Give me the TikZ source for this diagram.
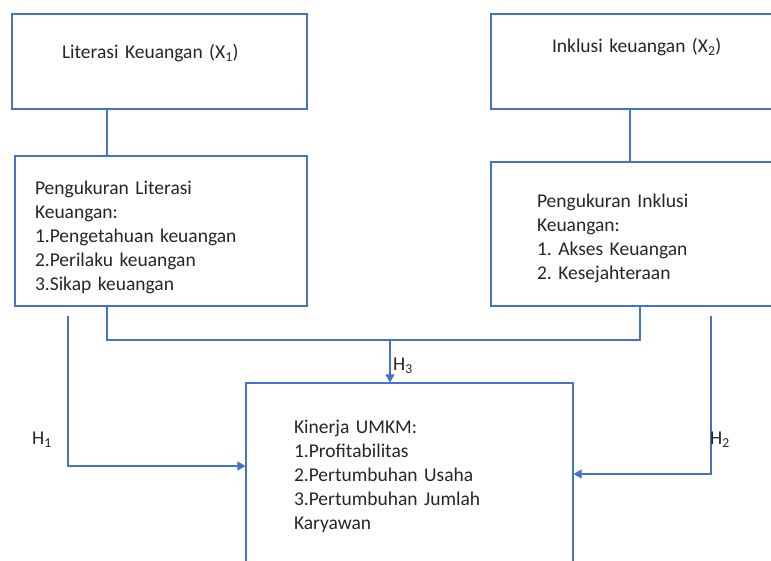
\documentclass[tikz,border=0pt]{standalone}
\usepackage{fontspec}
\setmainfont{Carlito}
\usepackage{tikz}
\usetikzlibrary{arrows.meta,positioning,calc}
\definecolor{umkmblue}{HTML}{4472C4}
\definecolor{umkmtext}{HTML}{262626}
\frenchspacing

\begin{document}
\begin{tikzpicture}[x=1pt, y=-1pt,
  varbox/.style={draw=umkmblue, line width=1.2pt, inner sep=0pt, align=left,
    text=umkmtext, font=\fontsize{19.5}{24}\selectfont},
  link/.style={draw=umkmblue, line width=1.2pt},
  arr/.style={link, -{Triangle[width=9pt,length=8pt]}},
  hlabel/.style={text=umkmtext, font=\fontsize{19.5}{24}\selectfont, inner sep=0pt}]
\useasboundingbox (0,0) rectangle (771,560);
\clip (0,0) rectangle (771,560);
\fill[white] (0,0) rectangle (771,560);

% variabel
\node[varbox, minimum width=295pt, minimum height=95pt, text width=195pt] (lit) at (159.5,61.5)
  {\raisebox{3.5pt}[0pt][0pt]{Literasi Keuangan (X\textsubscript{1})}};
\node[varbox, minimum width=298pt, minimum height=95pt, text width=176pt] (ink) at (640,61.5)
  {\raisebox{9.5pt}[0pt][0pt]{Inklusi keuangan (X\textsubscript{2})}};

% indikator
\node[varbox, minimum width=292pt, minimum height=150pt, text width=252pt] (ukurlit) at (161,231)
  {\rule{0pt}{27pt}Pengukuran Literasi\\Keuangan:\\1.Pengetahuan keuangan\\2.Perilaku keuangan\\3.Sikap keuangan};
\node[varbox, minimum width=298pt, minimum height=144pt, text width=206pt] (ukurink) at (640,234)
  {\rule{0pt}{23pt}Pengukuran Inklusi\\Keuangan:\\1. Akses Keuangan\\2. Kesejahteraan};
\node[varbox, minimum width=327pt, minimum height=187pt, text width=231pt] (kinerja) at (409.5,476.5)
  {Kinerja UMKM:\\1.Profitabilitas\\2.Pertumbuhan Usaha\\3.Pertumbuhan Jumlah\\Karyawan};

\draw[link] ([xshift=-52.5pt]lit.south) -- ([xshift=-52.5pt]lit.south |- ukurlit.north);
\draw[link] ([xshift=-10pt]ink.south) -- ([xshift=-10pt]ink.south |- ukurink.north);

% H3
\coordinate (gabung) at (390,340);
\draw[link] ([xshift=-54pt]ukurlit.south) |- (gabung) -| (ukurink.south);
\draw[arr] (gabung) -- (gabung |- kinerja.north);
\node[hlabel] (h3) at (403,366) {H\textsubscript{3}};

% H1 dan H2
\coordinate (awalh1) at (68,316);
\coordinate (awalh2) at (711,316);
\draw[arr] (awalh1) |- ([yshift=10.5pt]kinerja.west);
\draw[arr] (awalh2) |- ([yshift=2.5pt]kinerja.east);
\node[hlabel] (h1) at (42,440) {H\textsubscript{1}};
\node[hlabel] (h2) at (720,440) {H\textsubscript{2}};
\end{tikzpicture}
\end{document}
